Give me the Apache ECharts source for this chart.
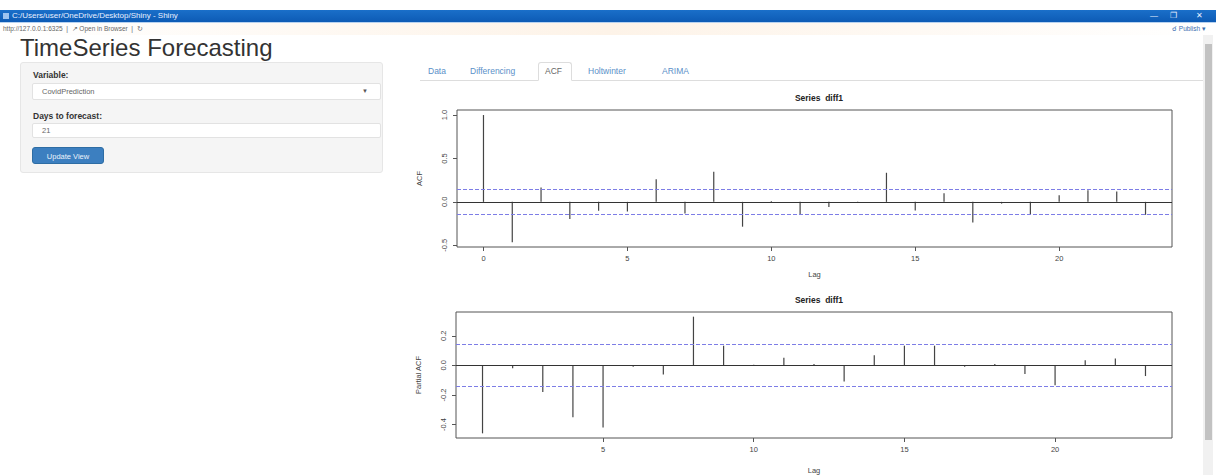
<!DOCTYPE html>
<html>
<head>
<meta charset="utf-8">
<script src="https://cdn.jsdelivr.net/npm/echarts@6/dist/echarts.min.js"></script>
<style>
  html, body { margin:0; padding:0; width:1216px; height:475px; overflow:hidden; background:#fff;
    font-family:"Liberation Sans", Arial, Helvetica, sans-serif; }
  .abs { position:absolute; }
  #topgap { left:0; top:0; width:1216px; height:10px; background:#fff; }
  #titlebar { left:0; top:10px; width:1216px; height:12px; background:linear-gradient(#1a6fc9,#0d5bb5); color:#e8f0ff; font-size:8px; line-height:12px; }
  #toolbar { left:0; top:22px; width:1216px; height:12px; background:linear-gradient(90deg,#ffffff,#fdf3e8 50%,#ffffff); border-top:1px solid #b7d2f0; color:#666; font-size:6.5px; line-height:12px; }
  h2 { position:absolute; left:20px; top:34px; margin:0; font-size:24px; font-weight:400; color:#333; line-height:28px; }
  #well { left:20px; top:62px; width:361px; height:109px; background:#f5f5f5; border:1px solid #e6e6e6; border-radius:3px; }
  .lbl { font-size:8.5px; font-weight:bold; color:#333; }
  .box { background:#fff; border:1px solid #e2e2e2; border-radius:2px; font-size:7.5px; color:#666; line-height:15px; padding-left:9px; box-sizing:border-box; }
  #btn { left:32px; top:147px; width:72px; height:17px; background:#3c7fc0; border:1px solid #2e6da4; border-radius:3px; color:#eaf2fb; font-size:7.5px; line-height:17px; text-align:center; box-sizing:border-box; }
  .tab { font-size:8.5px; color:#5a90c8; top:66px; }
  #tabline { left:420px; top:80px; width:783px; height:1px; background:#ddd; }
  #activetab { left:538px; top:62px; width:34px; height:19px; border:1px solid #ddd; border-bottom:1px solid #fff; background:#fff; border-radius:3px 3px 0 0; box-sizing:border-box; }
  #scrolltrack { left:1203px; top:35px; width:10px; height:440px; background:#f1f1f1; }
  #scrollthumb { left:1205px; top:44px; width:7px; height:396px; background:#c2c2c2; }
  #chart { position:absolute; left:0; top:0; width:1216px; height:475px; }
</style>
</head>
<body>
<div class="abs" id="topgap"></div>
<div class="abs" id="titlebar"><span style="display:inline-block;width:6px;height:6px;background:#9cc3f0;margin:0 3px 0 3px;vertical-align:middle;"></span>C:/Users/user/OneDrive/Desktop/Shiny - Shiny<span style="position:absolute;left:1150px;">&#8212;</span><span style="position:absolute;left:1170px;">&#10064;</span><span style="position:absolute;left:1196px;">&#10005;</span></div>
<div class="abs" id="toolbar"><span style="margin-left:3px;">http://127.0.0.1:6325 &nbsp;|&nbsp; &#8599; Open in Browser &nbsp;|&nbsp; &#8635;</span><span style="position:absolute;left:1172px;color:#3b6fb0;">&#9740; Publish &#9662;</span></div>
<h2>TimeSeries Forecasting</h2>
<div class="abs" id="well"></div>
<div class="abs lbl" style="left:33px;top:70px;">Variable:</div>
<div class="abs box" style="left:32px;top:83px;width:349px;height:17px;">CovidPrediction<span style="position:absolute;right:12px;top:0;color:#555;font-size:6px;">&#9660;</span></div>
<div class="abs lbl" style="left:33px;top:111px;">Days to forecast:</div>
<div class="abs box" style="left:32px;top:123px;width:349px;height:15px;line-height:13px;">21</div>
<div class="abs" id="btn">Update View</div>
<div class="abs" id="tabline"></div>
<div class="abs" id="activetab"></div>
<div class="abs tab" style="left:428px;">Data</div>
<div class="abs tab" style="left:470px;">Differencing</div>
<div class="abs tab" style="left:545px;color:#666;">ACF</div>
<div class="abs tab" style="left:588px;">Holtwinter</div>
<div class="abs tab" style="left:662px;">ARIMA</div>
<div class="abs" id="scrolltrack"></div>
<div class="abs" id="scrollthumb"></div>
<div id="chart"></div>
<script>
// ---- data ----
const acfLags = [0,1,2,3,4,5,6,7,8,9,10,11,12,13,14,15,16,17,18,19,20,21,22,23];
const acfValues = [1.0,-0.466,0.164,-0.198,-0.103,-0.111,0.26,-0.134,0.347,-0.286,0.01,-0.141,-0.06,-0.01,0.335,-0.1,0.1,-0.237,-0.02,-0.141,0.077,0.134,0.118,-0.149];
const pacfLags = [1,2,3,4,5,6,7,8,9,10,11,12,13,14,15,16,17,18,19,20,21,22,23];
const pacfValues = [-0.459,-0.02,-0.179,-0.35,-0.42,-0.01,-0.062,0.329,0.133,0.005,0.051,0.01,-0.109,0.068,0.133,0.133,-0.01,0.01,-0.058,-0.134,0.035,0.047,-0.072];
const ciBound = 0.137;
const acfXTicks = [0,5,10,15,20];
const acfYTicks = [-0.5,0,0.5,1];
const pacfXTicks = [5,10,15,20];
const pacfYTicks = [-0.4,-0.2,0,0.2];
const plotTitles = ['Series  diff1','Series  diff1'];
const yNames = ['ACF','Partial ACF'];
const xName = 'Lag';

const chart = echarts.init(document.getElementById('chart'), null, {renderer:'svg'});
const axisColor = '#555';
const lblStyle = {fontSize:7.5, color:'#444', fontFamily:'Liberation Sans, Arial'};

function xAxisCfg(idx, min, max, ticks, gap){
  return {type:'value', gridIndex:idx, min:min, max:max,
    name:xName, nameLocation:'middle', nameGap:gap, nameTextStyle:{fontSize:7.5,color:'#444'},
    axisLine:{show:false, onZero:false}, splitLine:{show:false},
    axisTick:{show:true, inside:false, length:4, customValues:ticks, lineStyle:{color:axisColor}},
    axisLabel:Object.assign({customValues:ticks, margin:7, formatter:v=>String(v)}, lblStyle)};
}
function yAxisCfg(idx, min, max, ticks, name){
  return {type:'value', gridIndex:idx, min:min, max:max,
    name:name, nameLocation:'middle', nameGap:34, nameRotate:90, nameTextStyle:{fontSize:7.5,color:'#444'},
    axisLine:{show:false, onZero:false}, splitLine:{show:false},
    axisTick:{show:true, inside:false, length:4, customValues:ticks, lineStyle:{color:axisColor}},
    axisLabel:Object.assign({customValues:ticks, rotate:90, margin:9, formatter:v=>v.toFixed(1)}, lblStyle)};
}
function marks(){
  return {symbol:['none','none'], silent:true, label:{show:false}, animation:false,
    data:[
      {yAxis:0, lineStyle:{color:'#333', type:'solid', width:1}},
      {yAxis:ciBound, lineStyle:{color:'#7d7de6', type:[4,2], width:1}},
      {yAxis:-ciBound, lineStyle:{color:'#7d7de6', type:[4,2], width:1}}
    ]};
}

chart.setOption({
  animation:false,
  title:[
    {text:plotTitles[0], left:814, top:88, textAlign:'center', textStyle:{fontSize:8.5, fontWeight:'bold', color:'#222'}},
    {text:plotTitles[1], left:814, top:290, textAlign:'center', textStyle:{fontSize:8.5, fontWeight:'bold', color:'#222'}}
  ],
  grid:[
    {left:457, top:110, width:715, height:137, show:true, borderColor:axisColor, borderWidth:1, backgroundColor:'transparent'},
    {left:456, top:312, width:716, height:136, show:true, borderColor:axisColor, borderWidth:1, backgroundColor:'transparent'}
  ],
  xAxis:[ xAxisCfg(0,-0.92,23.92,acfXTicks,23), xAxisCfg(1,0.12,23.88,pacfXTicks,28) ],
  yAxis:[ yAxisCfg(0,-0.52,1.058,acfYTicks,yNames[0]), yAxisCfg(1,-0.4905,0.3605,pacfYTicks,yNames[1]) ],
  series:[
    {type:'bar', xAxisIndex:0, yAxisIndex:0, barWidth:1.2, itemStyle:{color:'#444'},
      data:acfLags.map((l,i)=>[l,acfValues[i]]), markLine:marks()},
    {type:'bar', xAxisIndex:1, yAxisIndex:1, barWidth:1.2, itemStyle:{color:'#444'},
      data:pacfLags.map((l,i)=>[l,pacfValues[i]]), markLine:marks()}
  ]
});
</script>
</body>
</html>
